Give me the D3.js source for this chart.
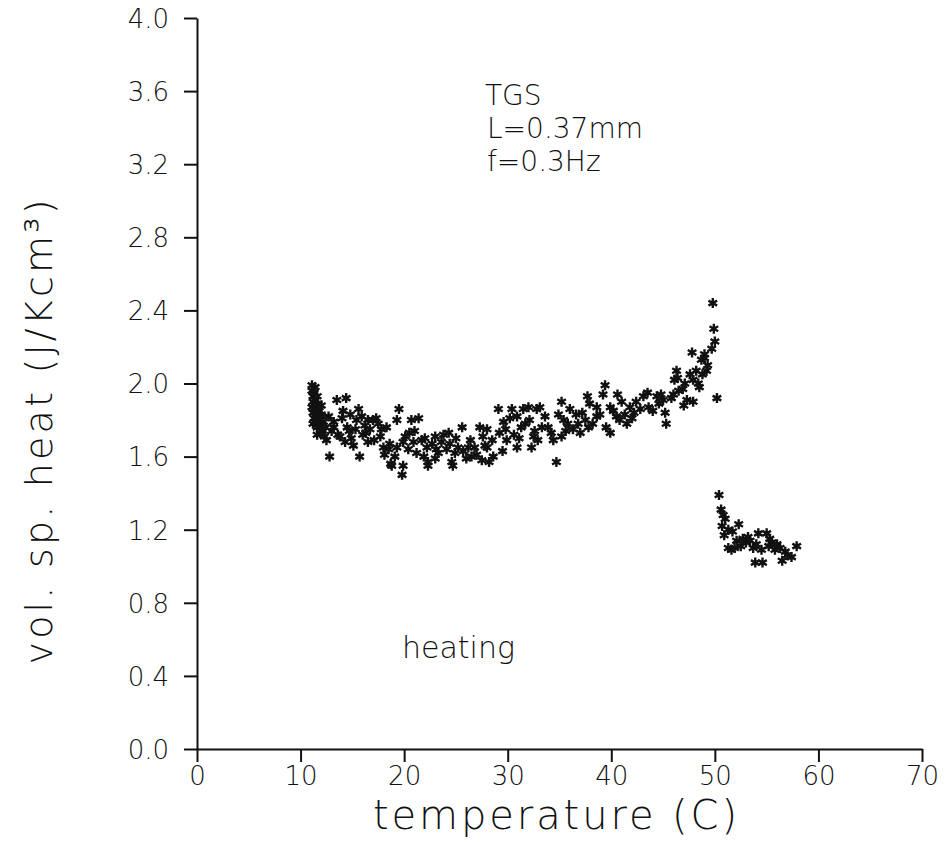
<!DOCTYPE html>
<html><head><meta charset="utf-8">
<script src="https://cdn.jsdelivr.net/npm/d3@7"></script>
<style>
html,body{margin:0;padding:0;background:#fff;}
svg text{font-family:"DejaVu Sans",sans-serif;font-weight:200;fill:#111;}
</style></head>
<body><svg id="c" width="951" height="843"></svg>
<script>
const xTicks = [0,10,20,30,40,50,60,70];
const yTicks = [0.0,0.4,0.8,1.2,1.6,2.0,2.4,2.8,3.2,3.6,4.0];
const xLabel = "temperature  (C)";
const yLabel = "vol. sp. heat  (J/Kcm³)";
const notes = ["TGS","L=0.37mm","f=0.3Hz"];
const modeNote = "heating";

// temperature (C)
const temps = [
11.1,11.1,11.2,11.2,11.1,11.2,11.3,11.2,11.3,11.4,11.4,11.5,11.5,11.4,11.6,11.6,11.7,11.8,11.8,11.9,12.0,12.1,12.2,11.3,11.6,12.0,12.3,12.4,11.9,
12.8,12.5,13.0,13.2,13.5,13.6,13.8,14.0,14.1,14.3,14.4,14.5,14.8,14.9,15.1,15.4,15.6,15.7,15.9,16.0,16.3,16.5,16.5,16.7,17.0,17.3,17.5,17.7,17.8,18.0,18.1,18.3,18.5,18.6,18.7,18.8,19.1,19.3,19.3,19.5,19.8,19.9,19.9,13.2,12.7,14.7,15.3,16.2,17.1,
20.1,20.4,20.5,20.7,21.0,21.2,21.4,21.7,21.9,22.2,22.3,22.3,22.7,23.0,23.0,23.1,23.6,23.8,24.1,24.3,24.4,24.6,24.7,24.9,25.2,25.6,25.7,26.0,26.2,26.5,26.8,27.0,27.3,27.5,27.8,28.0,28.0,28.2,28.5,28.6,20.9,22.0,23.3,25.0,26.4,27.6,
29.1,29.2,29.5,29.6,29.9,30.2,30.4,30.6,30.9,30.9,31.3,31.5,31.7,32.0,32.1,32.3,32.5,32.6,32.8,32.9,33.1,33.3,29.8,31.1,
33.6,33.9,34.2,34.4,34.7,34.9,35.2,35.2,35.4,35.8,35.6,36.0,36.3,36.6,37.0,37.2,37.5,37.7,37.8,37.9,38.2,38.6,38.6,38.9,39.2,39.4,39.5,39.9,39.9,40.2,40.5,40.6,40.8,41.3,41.5,41.8,42.0,42.4,42.8,43.1,43.5,43.6,44.0,44.4,44.6,44.8,45.0,45.2,45.3,36.8,41.0,42.2,
45.8,46.0,46.1,46.3,46.4,46.5,46.9,47.0,47.1,47.3,47.6,47.8,47.9,47.9,48.2,48.4,48.7,48.8,49.0,49.2,49.3,49.0,49.7,49.9,49.8,50.0,50.2,48.5,
50.4,50.6,51.0,50.7,50.9,51.3,51.7,52.3,51.3,51.6,51.9,52.1,52.7,53.0,53.4,53.7,53.9,54.2,54.5,54.6,55.0,55.2,55.5,55.8,56.3,56.5,56.8,57.0,57.4,57.9,52.5,53.2,54.0,55.3,56.0,50.8
];
// vol. sp. heat (J/Kcm3)
const heat = [
1.99,1.96,1.93,1.90,1.87,1.84,1.81,1.78,1.95,1.98,1.91,1.86,1.83,1.79,1.76,1.72,1.89,1.85,1.80,1.77,1.83,1.74,1.79,1.86,1.93,1.88,1.71,1.76,1.73,
1.60,1.69,1.74,1.79,1.91,1.72,1.71,1.81,1.85,1.68,1.92,1.76,1.83,1.70,1.66,1.80,1.86,1.60,1.82,1.72,1.73,1.68,1.80,1.75,1.80,1.81,1.78,1.71,1.75,1.65,1.61,1.76,1.64,1.67,1.56,1.55,1.60,1.65,1.80,1.86,1.50,1.55,1.68,1.76,1.82,1.74,1.75,1.77,1.69,
1.71,1.64,1.73,1.80,1.74,1.62,1.81,1.69,1.60,1.65,1.57,1.55,1.67,1.71,1.59,1.64,1.68,1.72,1.64,1.73,1.67,1.57,1.55,1.62,1.65,1.76,1.63,1.59,1.65,1.60,1.65,1.61,1.76,1.58,1.66,1.75,1.65,1.57,1.69,1.60,1.68,1.70,1.62,1.70,1.69,1.71,
1.86,1.73,1.63,1.79,1.69,1.81,1.86,1.72,1.82,1.65,1.76,1.86,1.78,1.87,1.80,1.65,1.71,1.74,1.86,1.69,1.87,1.76,1.75,1.70,
1.82,1.76,1.73,1.69,1.57,1.83,1.90,1.71,1.80,1.78,1.74,1.86,1.75,1.83,1.73,1.84,1.80,1.93,1.76,1.89,1.78,1.87,1.82,1.83,1.94,1.99,1.76,1.73,1.87,1.85,1.82,1.94,1.80,1.83,1.78,1.87,1.81,1.90,1.86,1.93,1.95,1.87,1.85,1.93,1.89,1.94,1.91,1.84,1.78,1.78,1.90,1.84,
1.92,1.94,2.02,2.07,2.03,1.96,1.97,1.88,2.00,1.91,2.05,2.17,2.02,1.90,2.07,2.00,2.13,2.05,2.16,2.07,2.10,2.14,2.19,2.30,2.44,2.23,1.92,1.98,
1.39,1.31,1.26,1.22,1.17,1.20,1.19,1.23,1.10,1.09,1.10,1.14,1.15,1.13,1.14,1.10,1.02,1.18,1.09,1.02,1.18,1.11,1.13,1.09,1.10,1.03,1.08,1.06,1.05,1.11,1.11,1.16,1.12,1.15,1.12,1.28
];

const svg = d3.select("#c");
const x = d3.scaleLinear().domain([0,70]).range([197,922]);
const y = d3.scaleLinear().domain([0,4]).range([749,18]);

const xa = svg.append("g").attr("transform",`translate(0,${y(0)})`)
  .call(d3.axisBottom(x).tickValues(xTicks).tickFormat(d3.format("d")).tickSize(13).tickSizeOuter(0).tickPadding(5));
const ya = svg.append("g").attr("transform",`translate(${x(0)},0)`)
  .call(d3.axisLeft(y).tickValues(yTicks).tickFormat(d3.format(".1f")).tickSize(13).tickSizeOuter(0).tickPadding(15));
[xa,ya].forEach(g=>{
  g.selectAll("path,line").attr("stroke","#111").attr("stroke-width",2);
  g.selectAll("text").attr("font-size",26).attr("font-family","DejaVu Sans").attr("font-weight",200).attr("fill","#111");
});
ya.selectAll("text").attr("dy","0.36em");

const data = temps.map((t,i)=>({t, v: heat[i]}));
const star = d3.symbol().type(d3.symbolAsterisk).size(70);
svg.append("g").selectAll("path").data(data).join("path")
  .attr("transform",d=>`translate(${x(d.t)},${y(d.v)})`)
  .attr("d",star).attr("fill","none").attr("stroke","#111").attr("stroke-width",2.4);

svg.append("text").attr("x",555).attr("y",829).attr("text-anchor","middle")
  .attr("font-size",40).attr("textLength",364).attr("lengthAdjust","spacing").text(xLabel);
svg.append("text").attr("transform","translate(52,432) rotate(-90)").attr("text-anchor","middle")
  .attr("font-size",38).attr("textLength",465).attr("lengthAdjust","spacing").text(yLabel);

const nb = [105,138,171];
notes.forEach((s,i)=>svg.append("text").attr("x",i==0?485:487).attr("y",nb[i]).attr("font-size",28).text(s));
svg.append("text").attr("x",402).attr("y",658).attr("font-size",30).text(modeNote);
</script></body></html>
